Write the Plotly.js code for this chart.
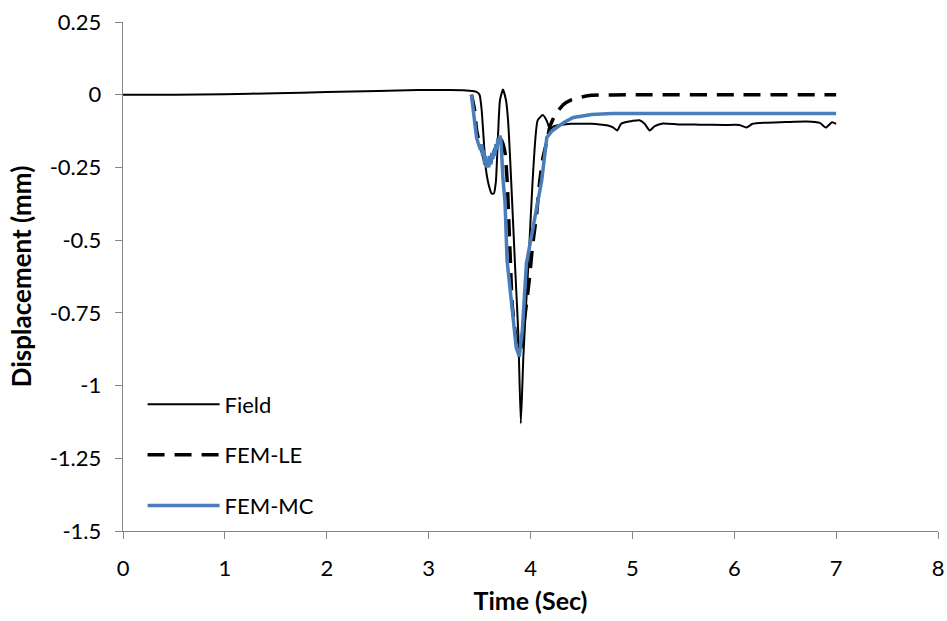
<!DOCTYPE html>
<html>
<head>
<meta charset="utf-8">
<script src="https://cdn.plot.ly/plotly-3.0.1.min.js"></script>
<style>html,body{margin:0;padding:0;background:#fff;}#chart{width:947px;height:621px;}</style>
</head>
<body>
<div id="chart"></div>
<script>
// Field measurement
const fieldT = [0, 0.5, 1.0, 1.5, 2.0, 2.5, 2.9, 3.2, 3.4, 3.47, 3.5, 3.52, 3.54, 3.56, 3.59, 3.62, 3.64, 3.66, 3.68, 3.70, 3.73, 3.76, 3.78, 3.80, 3.82, 3.85, 3.88, 3.905, 3.93, 3.96, 3.98, 4.02, 4.07, 4.12, 4.16, 4.19, 4.23, 4.29, 4.4, 4.5, 4.6, 4.68, 4.75, 4.81, 4.85, 4.89, 4.94, 5.0, 5.07, 5.12, 5.17, 5.22, 5.30, 5.45, 5.66, 5.9, 6.05, 6.12, 6.18, 6.3, 6.5, 6.71, 6.84, 6.90, 6.96, 7.0];
const fieldD = [0, 0, 0.002, 0.005, 0.009, 0.013, 0.016, 0.016, 0.014, 0.01, 0.0, -0.05, -0.15, -0.25, -0.31, -0.34, -0.34, -0.3, -0.15, -0.02, 0.018, -0.02, -0.09, -0.22, -0.37, -0.6, -0.82, -1.13, -0.9, -0.7, -0.58, -0.3, -0.088, -0.07, -0.09, -0.118, -0.108, -0.104, -0.1, -0.1, -0.1, -0.102, -0.105, -0.112, -0.123, -0.1, -0.094, -0.09, -0.088, -0.1, -0.123, -0.108, -0.099, -0.102, -0.103, -0.104, -0.104, -0.113, -0.1, -0.096, -0.094, -0.092, -0.097, -0.113, -0.095, -0.1];

// FEM linear elastic
const leT = [3.42, 3.45, 3.47, 3.50, 3.53, 3.56, 3.59, 3.62, 3.65, 3.68, 3.70, 3.72, 3.75, 3.77, 3.80, 3.82, 3.86, 3.90, 3.93, 3.96, 3.99, 4.02, 4.06, 4.09, 4.12, 4.16, 4.19, 4.24, 4.32, 4.4, 4.5, 4.6, 5.0, 6.0, 7.0];
const leD = [0, -0.05, -0.12, -0.17, -0.2, -0.24, -0.25, -0.22, -0.19, -0.16, -0.15, -0.16, -0.2, -0.29, -0.55, -0.72, -0.84, -0.88, -0.8, -0.72, -0.63, -0.52, -0.41, -0.3, -0.22, -0.16, -0.11, -0.07, -0.035, -0.018, -0.008, -0.002, 0, 0, 0];

// FEM Mohr-Coulomb
const mcT = [3.42, 3.45, 3.47, 3.49, 3.51, 3.52, 3.53, 3.54, 3.55, 3.56, 3.57, 3.58, 3.59, 3.60, 3.61, 3.62, 3.63, 3.64, 3.65, 3.66, 3.67, 3.68, 3.69, 3.70, 3.71, 3.73, 3.75, 3.77, 3.82, 3.86, 3.89, 3.92, 3.96, 3.99, 4.02, 4.07, 4.11, 4.16, 4.21, 4.26, 4.34, 4.42, 4.6, 4.8, 5.5, 6.0, 7.0];
const mcD = [0, -0.08, -0.147, -0.17, -0.19, -0.17, -0.21, -0.19, -0.24, -0.21, -0.25, -0.22, -0.25, -0.21, -0.24, -0.2, -0.22, -0.19, -0.21, -0.17, -0.19, -0.15, -0.17, -0.14, -0.16, -0.29, -0.37, -0.57, -0.74, -0.87, -0.9, -0.81, -0.58, -0.52, -0.465, -0.363, -0.295, -0.147, -0.125, -0.112, -0.093, -0.078, -0.068, -0.065, -0.065, -0.065, -0.065];

const yTickVals = [0.25, 0, -0.25, -0.5, -0.75, -1, -1.25, -1.5];
const yTickText = ["0.25", "0", "-0.25", "-0.5", "-0.75", "-1", "-1.25", "-1.5"];
const xTickVals = [0, 1, 2, 3, 4, 5, 6, 7, 8];
const xTickText = ["0", "1", "2", "3", "4", "5", "6", "7", "8"];

const FONT = "Lato, 'Open Sans', sans-serif";

const traces = [
  {x: fieldT, y: fieldD, name: "Field", mode: "lines", legendgroup: "a",
   line: {color: "#000000", width: 2, shape: "spline", smoothing: 0.5}},
  {x: leT, y: leD, name: "FEM-LE", mode: "lines", legendgroup: "b",
   line: {color: "#000000", width: 3.5, dash: "17px,10px", shape: "spline", smoothing: 0.4}},
  {x: mcT, y: mcD, name: "FEM-MC", mode: "lines", legendgroup: "c",
   line: {color: "#4A7EBB", width: 3.5}}
];

const layout = {
  width: 947, height: 621,
  margin: {l: 123, r: 9, t: 22, b: 90},
  paper_bgcolor: "#ffffff", plot_bgcolor: "#ffffff",
  font: {family: FONT, size: 22, color: "#000000"},
  showlegend: true,
  legend: {x: 0.024, y: 0.29, xanchor: "left", yanchor: "top", bgcolor: "rgba(0,0,0,0)",
           font: {family: FONT, size: 22, color: "#000000"}, itemwidth: 72,
           traceorder: "grouped", tracegroupgap: 19},
  xaxis: {range: [0, 8], tickvals: xTickVals, ticktext: xTickText, ticks: "outside", ticklen: 7,
          tickcolor: "#868686", showline: true, linecolor: "#868686", linewidth: 1.3,
          showgrid: false, zeroline: false, fixedrange: true, ticklabelstandoff: 10,
          tickfont: {family: FONT, size: 22, color: "#000000"},
          title: {text: "<b>Time (Sec)</b>", font: {family: FONT, size: 25, color: "#000000"}, standoff: 12}},
  yaxis: {range: [-1.5, 0.25], tickvals: yTickVals, ticktext: yTickText, ticks: "outside", ticklen: 7,
          tickcolor: "#868686", showline: true, linecolor: "#868686", linewidth: 1.3,
          showgrid: false, zeroline: false, fixedrange: true, ticklabelstandoff: 9,
          tickfont: {family: FONT, size: 22, color: "#000000"},
          title: {text: "<b>Displacement (mm)</b>", font: {family: FONT, size: 26, color: "#000000"}, standoff: 10}}
};

Plotly.newPlot("chart", traces, layout, {staticPlot: true, displayModeBar: false});
</script>
</body>
</html>
